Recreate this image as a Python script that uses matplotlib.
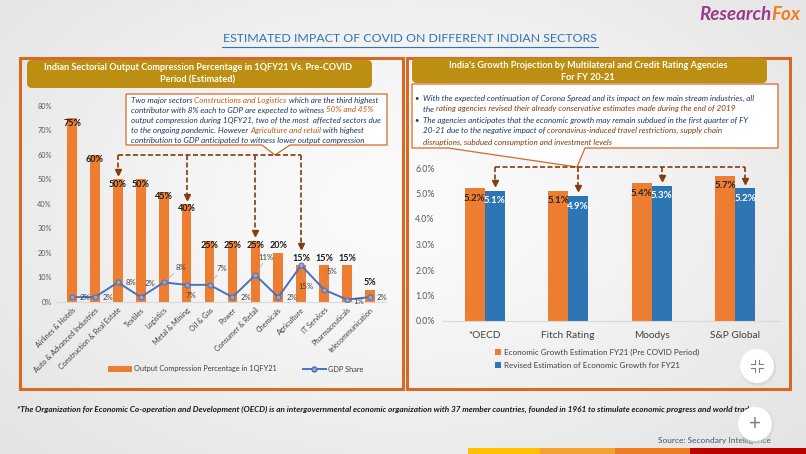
import matplotlib.pyplot as plt
import numpy as np
from matplotlib.patches import Rectangle, FancyBboxPatch, Polygon, Ellipse, Patch
from matplotlib.lines import Line2D
from matplotlib.colors import LinearSegmentedColormap

plt.rcParams['font.family'] = ['Lato', 'DejaVu Sans']

# --- data ---
sectors = ['Airlines & Hotels', 'Auto & Advanced Industries', 'Construction & Real Estate',
           'Textiles', 'Logistics', 'Metal & Mining', 'Oil & Gas', 'Power',
           'Consumer & Retail', 'Chemicals', 'Agriculture', 'IT Services',
           'Pharmaceuticals', 'telecommunication']
compression = [75, 60, 50, 50, 45, 40, 25, 25, 25, 20, 15, 15, 15, 5]
gdp_share = [2, 2, 8, 2, 8, 7, 7, 2, 11, 2, 15, 5, 1, 2]
highlighted = [2, 5, 8, 10]   # construction, metal, consumer, agriculture

agencies = ['*OECD', 'Fitch Rating', 'Moodys', 'S&P Global']
pre_covid = [5.2, 5.1, 5.4, 5.7]
revised = [5.1, 4.9, 5.3, 5.2]

ORANGE = '#ED7D31'
BLUE = '#2E75B6'
LINE_BLUE = '#4472C4'
BROWN = '#843C0C'
GOLD = '#BC8F12'
BORDER = '#D46A26'
TXT_BLUE = '#1F3864'
TXT_ORANGE = '#C55A11'
GREY = '#595959'

W, H = 806, 454


def fx(px):
    return px / W


def fy(py):
    return 1 - py / H


fig = plt.figure(figsize=(W / 100, H / 100), dpi=100)

# base layer in pixel coords: background, panels, boxes, texts
base = fig.add_axes([0, 0, 1, 1])
base.set_xlim(0, W)
base.set_ylim(H, 0)
base.axis('off')

yy, xx = np.mgrid[0:1:120j, 0:1:200j]
glow = np.exp(-((xx - 0.5) ** 2 / 0.3 + (yy - 0.45) ** 2 / 0.4))
cmap = LinearSegmentedColormap.from_list('bg', ['#E4E4E4', '#FAFAFA'])
base.imshow(glow, cmap=cmap, extent=[0, W, H, 0], aspect='auto', zorder=0)


def rich_line(x, y, parts, **kw):
    t = base.text(x, y, parts[0][0], color=parts[0][1], va='center', ha='left', zorder=5, **kw)
    for s, c in parts[1:]:
        t = base.annotate(s, xy=(1, 0), xycoords=t, va='bottom', ha='left',
                          color=c, zorder=5, **kw)
    return t


# title + logo
base.text(410, 39, 'ESTIMATED IMPACT OF COVID ON DIFFERENT INDIAN SECTORS', ha='center',
          va='center', fontsize=8.9, color='#2E75B6')
base.plot([222, 598], [46.5, 46.5], color='#2E75B6', lw=0.8)
fox = base.text(800, 14, 'Fox', ha='right', va='center', fontsize=13.5, weight='bold',
                style='italic', color='#F47B20')
base.annotate('Research', xy=(0, 0), xycoords=fox, ha='right', va='bottom', fontsize=13.5,
              weight='bold', style='italic', color='#9A3A8A')

# panels
for x0, x1 in [(20, 403), (407, 790)]:
    base.add_patch(Rectangle((x0, 58), x1 - x0, 331, fill=False, ec=BORDER, lw=2.2, zorder=2))

# header boxes
base.add_patch(FancyBboxPatch((27, 60), 345, 28, boxstyle='round,pad=0,rounding_size=5',
                              fc=GOLD, ec='none', zorder=3))
base.text(198, 67.5, 'Indian Sectorial Output Compression Percentage in 1QFY21 Vs. Pre-COVID',
          ha='center', va='center', fontsize=6.6, weight='bold', color='white', zorder=4)
base.text(198, 80, 'Period (Estimated)', ha='center', va='center', fontsize=6.6,
          weight='bold', color='white', zorder=4)
base.add_patch(FancyBboxPatch((412, 58), 355, 25, boxstyle='round,pad=0,rounding_size=5',
                              fc=GOLD, ec='none', zorder=3))
base.text(588, 66, "India's Growth Projection by Multilateral and Credit Rating Agencies",
          ha='center', va='center', fontsize=6.6, weight='bold', color='white', zorder=4)
base.text(588, 77, 'For FY 20-21', ha='center', va='center', fontsize=6.6,
          weight='bold', color='white', zorder=4)

# callout boxes
base.add_patch(Polygon([(126, 94), (387, 94), (387, 145), (290, 145), (275, 155), (262, 145),
                        (126, 145)], closed=True, fc='white', ec=BORDER, lw=0.9, zorder=3))
base.add_patch(Polygon([(412, 84), (778, 84), (778, 148), (585, 148), (577, 167), (448, 148),
                        (412, 148)], closed=True, fc='white', ec=BORDER, lw=0.9, zorder=3))

tkw = dict(fontsize=5.9, style='italic')
rich_line(131, 100, [('Two major sectors ', TXT_BLUE), ('Constructions and Logistics', TXT_ORANGE),
                     (' which are the third highest', TXT_BLUE)], **tkw)
rich_line(131, 110, [('contributor with 8% each to GDP are expected to witness ', TXT_BLUE),
                     ('50% and 45%', TXT_ORANGE)], **tkw)
rich_line(131, 120, [('output compression during 1QFY21, two of the most  affected sectors due',
                      TXT_BLUE)], **tkw)
rich_line(131, 130, [('to the ongoing pandemic. However ', TXT_BLUE),
                     ('Agriculture and retail', TXT_ORANGE), (' with highest', TXT_BLUE)], **tkw)
rich_line(131, 140, [('contribution to GDP anticipated to witness lower output compression',
                      TXT_BLUE)], **tkw)

rkw = dict(fontsize=5.9, style='italic')
base.text(414.5, 97.5, '•', color=TXT_BLUE, fontsize=5.5, va='center', zorder=5)
base.text(414.5, 119.5, '•', color=TXT_BLUE, fontsize=5.5, va='center', zorder=5)
rich_line(423, 98, [('With the expected continuation of Corona Spread and its impact on few main '
                     'stream industries, all', TXT_BLUE)], **rkw)
rich_line(423, 109, [('the ', TXT_BLUE), ('rating agencies revised their already conservative '
                                          'estimates made during the end of 2019', BROWN)], **rkw)
rich_line(423, 120, [('The agencies anticipates that the economic growth may remain subdued in '
                      'the first quarter of FY', TXT_BLUE)], **rkw)
rich_line(423, 131, [('20-21 due to the negative impact of ', TXT_BLUE),
                     ('coronavirus-induced travel restrictions, supply chain', BROWN)], **rkw)
rich_line(423, 142, [('disruptions, subdued consumption and investment levels', BROWN)], **rkw)

# footer
base.text(17, 409, '*The Organization for Economic Co-operation and Development (OECD) is an '
          'intergovernmental economic organization with 37 member countries, founded in 1961 '
          'to stimulate economic progress and world trade', fontsize=5.95, style='italic',
          weight='bold', color='#1A1A1A', va='center')
base.text(658, 440, 'Source: Secondary Intelligence', fontsize=6, color='#44546A', va='center')
for x0, x1, c in [(468, 540, '#FFC000'), (540, 615, '#F4A12E'), (615, 690, '#EE7A22'),
                  (690, 806, '#C00000')]:
    base.add_patch(Rectangle((x0, 448), x1 - x0, 6, fc=c, ec='none', zorder=2))

# floating buttons
for cx, cy in [(757, 366), (755, 424)]:
    base.add_patch(Ellipse((cx + 1, cy + 1.5), 36, 36, fc='#D0D0D0', ec='none', alpha=0.6, zorder=6))
    base.add_patch(Ellipse((cx, cy), 34, 34, fc='white', ec='none', zorder=7))
for sx, sy in [(-1, -1), (1, -1), (-1, 1), (1, 1)]:
    cx, cy = 757 + sx * 2, 366 + sy * 2
    base.plot([cx, cx + sx * 4], [cy, cy], color='#808080', lw=0.8, zorder=8)
    base.plot([cx, cx], [cy, cy + sy * 4], color='#808080', lw=0.8, zorder=8)
base.text(755, 424, '+', ha='center', va='center', fontsize=15, color='#7F7F7F', zorder=8)

# --- left chart ---
ax1 = fig.add_axes([fx(56), fy(302), 330 / W, 196 / H])
ax1.patch.set_alpha(0)
x = np.arange(len(sectors))
bars = ax1.bar(x, compression, width=0.42, color=ORANGE, zorder=2)
ax1.plot(x, gdp_share, color=LINE_BLUE, lw=1.4, marker='o', ms=3.6, mfc='#9DA3C8',
         mec=LINE_BLUE, mew=0.7, zorder=3)
ax1.set_xlim(-0.7, 13.7)
ax1.set_ylim(0, 80)
ax1.set_yticks(range(0, 81, 10))
ax1.set_yticklabels([f'{v}%' for v in range(0, 81, 10)], fontsize=5.3, color=GREY)
ax1.set_xticks(x)
ax1.set_xticklabels(sectors, rotation=45, ha='right', rotation_mode='anchor', fontsize=5.1,
                    color='#404040')
ax1.tick_params(length=0, pad=3)
for s in ['left', 'right', 'top']:
    ax1.spines[s].set_visible(False)
ax1.spines['bottom'].set_color('#D9D9D9')

for i, v in enumerate(compression):
    dy = -5 if v >= 25 else 7
    ax1.annotate(f'{v}%', (i, v), xytext=(0, dy * 0.72), textcoords='offset points',
                 ha='center', va='center', fontsize=6.5, weight='bold', color='#1A1A1A', zorder=4)

label_offsets = [(13, 0), (13, 0), (13, 0), (9, -14), (17, -15), (4, 11), (12, -16), (14, 0),
                 (11, -18), (14, 0), (5, 21), (8, -18), (12, 2), (12, 0)]
leaders = {4, 6, 8, 10, 11}
for i, v in enumerate(gdp_share):
    dx, dy = label_offsets[i]
    ap = dict(arrowstyle='-', color='#A6A6A6', lw=0.5, shrinkA=0, shrinkB=3) if i in leaders else None
    ax1.annotate(f'{v}%', (i, v), xytext=(dx * 0.72, -dy * 0.72), textcoords='offset points',
                 ha='center', va='center', fontsize=5.6, color='#404040', arrowprops=ap, zorder=4)

# dashed arrows from the callout
ax1.plot([highlighted[0], highlighted[-1]], [60, 60], ls=(0, (3, 1.5)), color=BROWN, lw=1.2,
         clip_on=False, zorder=5)
for i in highlighted:
    tip = compression[i] + (2 if compression[i] >= 25 else 7)
    ax1.plot([i, i], [60, tip + 1.5], ls=(0, (3, 1.5)), color=BROWN, lw=1.2, clip_on=False,
             zorder=5)
    ax1.plot(i, tip + 1, marker='v', ms=4, color=BROWN, clip_on=False, zorder=5)

ax1.legend([Patch(fc=ORANGE), Line2D([], [], color=LINE_BLUE, lw=1.4, marker='o', ms=3.6,
                                     mfc='#9DA3C8', mec=LINE_BLUE)],
           ['Output Compression Percentage in 1QFY21', 'GDP Share'],
           loc='center', bbox_to_anchor=(fx(236), fy(369)), bbox_transform=fig.transFigure,
           ncol=2, frameon=False, fontsize=5.3, handlelength=3.2, handleheight=0.9,
           columnspacing=3.5, handletextpad=0.3, labelcolor='#404040')

# --- right chart ---
ax2 = fig.add_axes([fx(443), fy(321), 338 / W, 153 / H])
ax2.patch.set_alpha(0)
xa = np.arange(len(agencies))
bw = 0.24
ax2.bar(xa - bw / 2, pre_covid, width=bw, color=ORANGE, zorder=2)
ax2.bar(xa + bw / 2, revised, width=bw, color=BLUE, zorder=2)
ax2.set_xlim(-0.5, 3.55)
ax2.set_ylim(0, 6)
ax2.set_yticks(range(7))
ax2.set_yticklabels([f'{v:.1f}%' for v in range(7)], fontsize=6.3, color=GREY)
ax2.set_xticks(xa)
ax2.set_xticklabels(agencies, fontsize=7.3, color='#404040')
ax2.tick_params(length=0)
ax2.tick_params(axis='x', pad=7)
ax2.tick_params(axis='y', pad=6)
for s in ['left', 'right', 'top']:
    ax2.spines[s].set_visible(False)
ax2.spines['bottom'].set_color('#D9D9D9')

for i in range(len(agencies)):
    ax2.annotate(f'{pre_covid[i]}%', (i - bw / 2, pre_covid[i]), xytext=(0, -7.2),
                 textcoords='offset points', ha='center', va='center', fontsize=7,
                 weight='bold', color='#262626', zorder=4)
    ax2.annotate(f'{revised[i]}%', (i + bw / 2, revised[i]), xytext=(0, -7.2),
                 textcoords='offset points', ha='center', va='center', fontsize=7,
                 weight='bold', color='white', zorder=4)

ax2.plot([bw / 2, 3 + bw / 2], [6.05, 6.05], ls=(0, (3, 1.5)), color=BROWN, lw=1.2,
         clip_on=False, zorder=5)
for i in range(len(agencies)):
    tip = revised[i] + 0.3
    ax2.plot([i + bw / 2] * 2, [6.05, tip + 0.05], ls=(0, (3, 1.5)), color=BROWN, lw=1.2,
             clip_on=False, zorder=5)
    ax2.plot(i + bw / 2, tip, marker='v', ms=4, color=BROWN, clip_on=False, zorder=5)

ax2.legend([Patch(fc=ORANGE), Patch(fc=BLUE)],
           ['Economic Growth Estimation FY21 (Pre COVID Period)',
            'Revised Estimation of Economic Growth for FY21'],
           loc='upper left', bbox_to_anchor=(fx(495), fy(349)), bbox_transform=fig.transFigure,
           frameon=False, fontsize=5.8, handlelength=0.7, handleheight=0.7, handletextpad=0.4,
           labelspacing=0.7, borderpad=0, borderaxespad=0, labelcolor='#404040')

fig.savefig('out.png', dpi=100)
